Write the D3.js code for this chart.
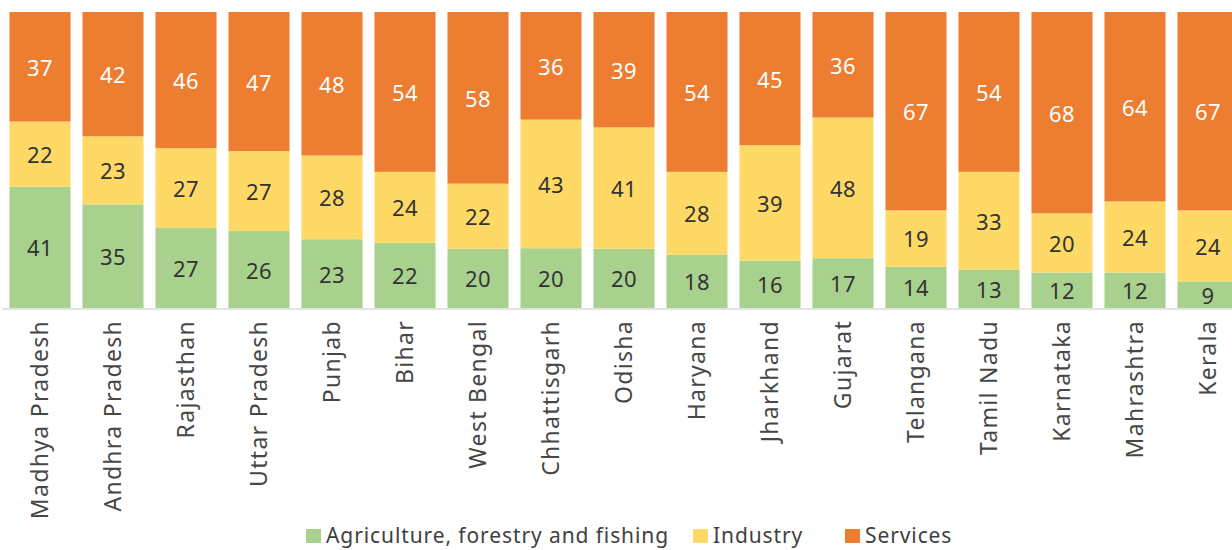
<!DOCTYPE html>
<html>
<head>
<meta charset="utf-8">
<script src="https://cdn.jsdelivr.net/npm/d3@7/dist/d3.min.js"></script>
<style>
  html, body { margin: 0; padding: 0; background: #fff; overflow: hidden; }
  svg { display: block; font-family: "Noto Sans", sans-serif; }
</style>
</head>
<body>
<div id="chart"></div>
<script>
const states = ["Madhya Pradesh", "Andhra Pradesh", "Rajasthan", "Uttar Pradesh", "Punjab", "Bihar",
  "West Bengal", "Chhattisgarh", "Odisha", "Haryana", "Jharkhand", "Gujarat", "Telangana",
  "Tamil Nadu", "Karnataka", "Mahrashtra", "Kerala"];
const agriculture = [41, 35, 27, 26, 23, 22, 20, 20, 20, 18, 16, 17, 14, 13, 12, 12, 9];
const industry    = [22, 23, 27, 27, 28, 24, 22, 43, 41, 28, 39, 48, 19, 33, 20, 24, 24];
const services    = [37, 42, 46, 47, 48, 54, 58, 36, 39, 54, 45, 36, 67, 54, 68, 64, 67];
const seriesNames = ["Agriculture, forestry and fishing", "Industry", "Services"];

const colors = ["#A9D18E", "#FFD966", "#ED7D31"];
const labelColors = ["#333333", "#333333", "#ffffff"];

const width = 1232, height = 550;
const plotTop = 12, base = 308;

const rows = states.map((s, i) => ({
  state: s, agri: agriculture[i], ind: industry[i], serv: services[i]
}));
const keys = ["agri", "ind", "serv"];

const svg = d3.select("#chart").append("svg")
  .attr("width", width).attr("height", height);

const x = d3.scaleBand()
  .domain(states)
  .range([3.5, 3.5 + 73 * states.length])
  .paddingInner(0.164)
  .paddingOuter(0.082);

// 100% stacked: normalise each bar to its own total
const stack = d3.stack().keys(keys).offset(d3.stackOffsetExpand);
const layers = stack(rows);

const y = d3.scaleLinear().domain([0, 1]).range([base, plotTop]);

const g = svg.append("g");
layers.forEach((layer, li) => {
  g.append("g").selectAll("rect")
    .data(layer)
    .join("rect")
    .attr("x", d => x(d.data.state))
    .attr("width", x.bandwidth())
    .attr("y", d => y(d[1]))
    .attr("height", d => y(d[0]) - y(d[1]))
    .attr("fill", colors[li]);

  g.append("g").selectAll("text")
    .data(layer)
    .join("text")
    .attr("x", d => x(d.data.state) + x.bandwidth() / 2)
    .attr("y", d => (y(d[0]) + y(d[1])) / 2)
    .attr("text-anchor", "middle")
    .attr("dominant-baseline", "central")
    .attr("font-size", 22)
    .attr("letter-spacing", 0.5)
    .attr("fill", labelColors[li])
    .text(d => d.data[keys[li]]);
});

// category axis
const axis = svg.append("g")
  .attr("transform", `translate(0,${base + 1})`)
  .call(d3.axisBottom(x).tickSize(0).tickSizeOuter(0));
axis.select(".domain").attr("stroke", "#d9d9d9").attr("stroke-width", 1.5)
  .attr("d", `M3,0H${width}`);
axis.selectAll(".tick text")
  .attr("font-size", 23)
  .attr("letter-spacing", 1.3)
  .attr("font-family", "Noto Sans, sans-serif")
  .attr("fill", "#474747")
  .attr("text-anchor", "end")
  .attr("dy", "0.36em")
  .attr("transform", "translate(0,11) rotate(-90)")
  .attr("x", 0).attr("y", 0);

// legend
const legendX = [306, 693, 845];
const legend = svg.append("g").attr("transform", "translate(0,543)");
seriesNames.forEach((name, i) => {
  legend.append("rect")
    .attr("x", legendX[i]).attr("y", -14)
    .attr("width", 15).attr("height", 14)
    .attr("fill", colors[i]);
  legend.append("text")
    .attr("x", legendX[i] + 20).attr("y", 0)
    .attr("font-size", 21)
    .attr("letter-spacing", 0.9)
    .attr("fill", "#404040")
    .text(name);
});
</script>
</body>
</html>
